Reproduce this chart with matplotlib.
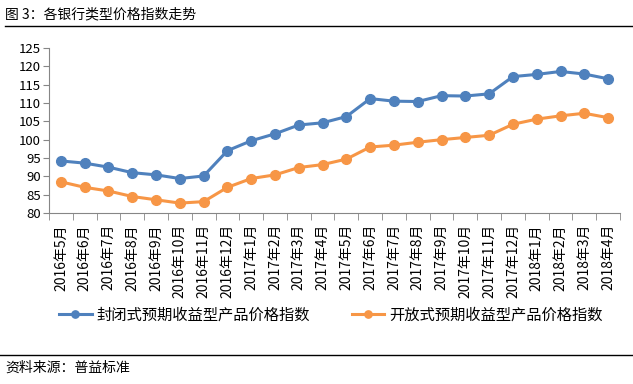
import matplotlib
matplotlib.use('Agg')
import matplotlib.pyplot as plt

plt.rcParams['font.family'] = ['Noto Sans CJK SC', 'DejaVu Sans']

months = ['2016年5月', '2016年6月', '2016年7月', '2016年8月', '2016年9月', '2016年10月',
          '2016年11月', '2016年12月', '2017年1月', '2017年2月', '2017年3月', '2017年4月',
          '2017年5月', '2017年6月', '2017年7月', '2017年8月', '2017年9月', '2017年10月',
          '2017年11月', '2017年12月', '2018年1月', '2018年2月', '2018年3月', '2018年4月']
closed_idx = [94.2, 93.6, 92.5, 91.0, 90.4, 89.4, 90.1, 97.0, 99.7, 101.6, 104.0, 104.6,
              106.3, 111.2, 110.5, 110.4, 112.0, 111.9, 112.5, 117.2, 117.8, 118.6, 117.9, 116.6]
open_idx = [88.5, 87.0, 86.0, 84.5, 83.6, 82.7, 83.1, 87.0, 89.4, 90.4, 92.4, 93.2,
            94.7, 98.0, 98.5, 99.3, 100.0, 100.6, 101.2, 104.2, 105.6, 106.5, 107.2, 106.0]
yticks = [80, 85, 90, 95, 100, 105, 110, 115, 120, 125]

fig = plt.figure(figsize=(6.33, 3.84), dpi=100)
ax = fig.add_axes([49 / 633, 1 - 213 / 384, (620 - 49) / 633, (213 - 48) / 384])

x = list(range(len(months)))
ax.plot(x, closed_idx, color='#4F81BD', lw=2.2, marker='o', ms=7, label='封闭式预期收益型产品价格指数')
ax.plot(x, open_idx, color='#F79646', lw=2.2, marker='o', ms=7, label='开放式预期收益型产品价格指数')

ax.set_ylim(80, 125)
ax.set_yticks(yticks)
ax.set_xlim(-0.5, len(months) - 0.5)
ax.set_xticks(x)
ax.set_xticklabels(months, rotation=90, fontsize=10)
ax.set_xticks([i - 0.5 for i in range(len(months) + 1)], minor=True)
ax.tick_params(axis='x', which='major', length=0, pad=8)
ax.tick_params(axis='x', which='minor', length=5, color='#868686')
ax.tick_params(axis='y', length=4, color='#868686', labelsize=9.5, pad=2)
for s in ['top', 'right']:
    ax.spines[s].set_visible(False)
for s in ['left', 'bottom']:
    ax.spines[s].set_color('#868686')

fig.legend(loc='center', bbox_to_anchor=(331 / 633, 1 - 315 / 384), ncol=2, frameon=False,
           fontsize=11, columnspacing=2.7, handlelength=2.1, handletextpad=0.35,
           markerscale=0.75, borderpad=0)

fig.text(5 / 633, 1 - 14 / 384, '图 3：各银行类型价格指数走势', fontsize=10, va='center')
fig.add_artist(plt.Line2D([5 / 633, 1], [1 - 26 / 384] * 2, color='black', lw=1))
fig.add_artist(plt.Line2D([0, 1], [1 - 355 / 384] * 2, color='black', lw=1))
fig.text(5 / 633, 1 - 368 / 384, '资料来源：普益标准', fontsize=10, va='center')

fig.savefig('out.png', dpi=100)
